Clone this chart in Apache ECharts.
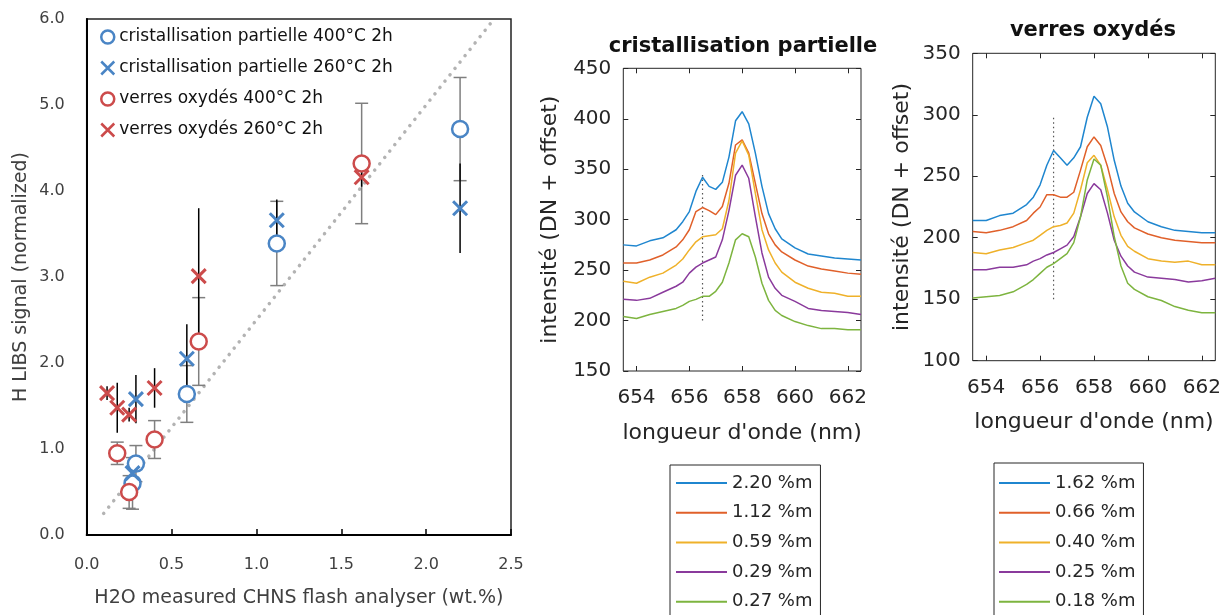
<!DOCTYPE html>
<html><head><meta charset="utf-8">
<script src="https://cdn.jsdelivr.net/npm/echarts@6/dist/echarts.min.js"></script>
<style>html,body{margin:0;padding:0;background:#fff}#c{width:1225px;height:615px}</style>
</head><body><div id="c"></div>
<script>
// ---------- Scatter (left) data ----------
const cp400_x = [2.20, 1.12, 0.59, 0.29, 0.27];
const cp400_y = [4.72, 3.39, 1.64, 0.83, 0.60];
const cp400_err = [0.60, 0.49, 0.33, 0.21, 0.30];

const cp260_x = [2.20, 1.12, 0.59, 0.29, 0.27];
const cp260_y = [3.80, 3.66, 2.05, 1.58, 0.72];
const cp260_err = [0.52, 0.24, 0.40, 0.28, 0.17];

const vo400_x = [1.62, 0.66, 0.40, 0.25, 0.18];
const vo400_y = [4.32, 2.25, 1.11, 0.50, 0.95];
const vo400_err = [0.70, 0.51, 0.22, 0.19, 0.13];

const vo260_x = [1.62, 0.66, 0.40, 0.25, 0.18, 0.12];
const vo260_y = [4.16, 3.01, 1.71, 1.40, 1.48, 1.65];
const vo260_err = [0.11, 0.79, 0.23, 0.08, 0.29, 0.08];

const ideal_x = [0.10, 2.40];
const ideal_y = [0.25, 6.00];

const scatterNames = ['cristallisation partielle 400°C 2h', 'cristallisation partielle 260°C 2h',
                      'verres oxydés 400°C 2h', 'verres oxydés 260°C 2h'];

// ---------- Spectra data ----------
const wl = [653.5, 654, 654.5, 655, 655.5, 655.75, 656, 656.25, 656.5, 656.75, 657, 657.25, 657.5, 657.75,
            658, 658.25, 658.5, 658.75, 659, 659.25, 659.5, 660, 660.5, 661, 661.5, 662, 662.5];
const wlTicks = [654, 656, 658, 660, 662];

const cpNames = ['2.20 %m', '1.12 %m', '0.59 %m', '0.29 %m', '0.27 %m'];
const cp_220 = [275, 274, 279, 282, 290, 298, 308, 328, 342, 333, 330, 337, 362, 398, 407, 395, 366, 333, 306, 291, 281, 272, 266, 264, 262, 261, 260];
const cp_112 = [257, 257, 260, 265, 273, 280, 290, 308, 312, 309, 305, 313, 336, 374, 379, 366, 336, 306, 286, 275, 268, 260, 254, 251, 249, 247, 246];
const cp_059 = [239, 237, 243, 247, 255, 261, 270, 278, 283, 284, 285, 291, 319, 366, 378, 364, 326, 290, 270, 257, 248, 238, 232, 228, 227, 224, 224];
const cp_029 = [221, 220, 222, 228, 234, 238, 247, 253, 257, 260, 263, 280, 309, 344, 354, 341, 303, 267, 243, 232, 225, 219, 212, 210, 209, 208, 206];
const cp_027 = [204, 202, 206, 209, 212, 215, 219, 221, 224, 224, 229, 238, 257, 280, 286, 283, 263, 237, 220, 210, 205, 199, 195, 192, 192, 191, 191];
const cpMarker_x = [656.5, 656.5];
const cpMarker_y = [200, 347];

const voNames = ['1.62 %m', '0.66 %m', '0.40 %m', '0.25 %m', '0.18 %m'];
const vo_162 = [214, 214, 218, 220, 227, 233, 243, 259, 271, 265, 259, 265, 274, 298, 315, 309, 290, 263, 242, 228, 221, 213, 209, 206, 205, 204, 204];
const vo_066 = [205, 204, 206, 209, 214, 220, 225, 235, 235, 233, 233, 237, 255, 274, 282, 275, 258, 236, 221, 213, 208, 203, 200, 198, 197, 196, 196];
const vo_040 = [188, 187, 190, 192, 196, 198, 202, 206, 209, 210, 212, 220, 239, 261, 267, 259, 239, 217, 202, 193, 189, 183, 181, 180, 181, 178, 178];
const vo_025 = [174, 174, 176, 176, 178, 181, 183, 186, 188, 191, 194, 201, 217, 236, 244, 239, 220, 198, 185, 177, 172, 168, 167, 166, 164, 165, 167];
const vo_018 = [151, 152, 153, 156, 162, 166, 171, 176, 179, 183, 187, 196, 217, 247, 264, 259, 233, 201, 177, 163, 158, 152, 149, 144, 141, 139, 139];
const voMarker_x = [656.5, 656.5];
const voMarker_y = [150, 298];

const lineColors = ['#1f86cf', '#e0602a', '#efb12a', '#8a3a9c', '#7db43f'];
const blue = '#4a85c5', red = '#cc4b4b';
const xPath = 'path://M0,0L10,10M0,10L10,0';

function pts(xs, ys) { return xs.map((x, i) => [x, ys[i]]); }

function errSeries(xs, ys, errs, color, cap) {
  return {
    type: 'custom', xAxisIndex: 0, yAxisIndex: 0, z: 2, silent: true,
    data: xs.map((x, i) => [x, ys[i] - errs[i], ys[i] + errs[i]]),
    encode: { x: 0, y: [1, 2] },
    renderItem: (params, api) => {
      const lo = api.coord([api.value(0), api.value(1)]);
      const hi = api.coord([api.value(0), api.value(2)]);
      const st = { stroke: color, lineWidth: 1.5 };
      const ch = [{ type: 'line', shape: { x1: lo[0], y1: lo[1], x2: hi[0], y2: hi[1] }, style: st }];
      if (cap) {
        ch.push({ type: 'line', shape: { x1: lo[0] - cap / 2, y1: lo[1], x2: lo[0] + cap / 2, y2: lo[1] }, style: st });
        ch.push({ type: 'line', shape: { x1: hi[0] - cap / 2, y1: hi[1], x2: hi[0] + cap / 2, y2: hi[1] }, style: st });
      }
      return { type: 'group', children: ch };
    }
  };
}

function specSeries(name, vals, color, idx) {
  return {
    name: name, type: 'line', xAxisIndex: idx, yAxisIndex: idx, data: pts(wl, vals),
    symbol: 'none', smooth: false, color: color,
    lineStyle: { width: 1.5, color: color }, z: 3, silent: true
  };
}

const specFont = 'DejaVu Sans';
const specText = '#262626';

function specX(gridIndex, pos) {
  return {
    type: 'value', gridIndex: gridIndex, position: pos, min: 653.5, max: 662.5,
    axisLine: { show: false }, splitLine: { show: false },
    axisTick: { show: true, inside: true, length: 5, customValues: wlTicks, lineStyle: { color: specText, width: 1 } },
    axisLabel: pos === 'bottom'
      ? { show: true, customValues: wlTicks, margin: 17, fontSize: 20, fontFamily: specFont, color: specText }
      : { show: false },
    name: pos === 'bottom' ? "longueur d'onde (nm)" : '',
    nameLocation: 'middle', nameGap: 51,
    nameTextStyle: { fontSize: 22, fontFamily: specFont, color: specText }
  };
}
function specY(gridIndex, pos, mn, mx, gap) {
  return {
    type: 'value', gridIndex: gridIndex, position: pos, min: mn, max: mx, interval: 50,
    axisLine: { show: false }, splitLine: { show: false },
    axisTick: { show: true, inside: true, length: 5, lineStyle: { color: specText, width: 1 } },
    axisLabel: pos === 'left'
      ? { show: true, margin: 12, fontSize: 20, fontFamily: specFont, color: specText }
      : { show: false },
    name: pos === 'left' ? 'intensité (DN + offset)' : '',
    nameLocation: 'middle', nameGap: gap,
    nameTextStyle: { fontSize: 22, fontFamily: specFont, color: specText }
  };
}

const leftFont = 'DejaVu Sans';
const leftText = '#404040';

function specLegend(left, top, padTop, padLeft, names) {
  return {
    left: left, top: top, height: 260, orient: 'vertical', itemGap: 7.7, itemWidth: 51, itemHeight: 2,
    padding: [padTop, 8, 40, padLeft], borderColor: specText, borderWidth: 1, selectedMode: false,
    itemStyle: { opacity: 0 },
    textStyle: { fontSize: 18, lineHeight: 22, fontFamily: specFont, color: specText },
    data: names
  };
}

const option = {
  animation: false,
  backgroundColor: '#fff',
  title: [
    { text: 'cristallisation partielle', left: 743, top: 36, textAlign: 'center', padding: 0,
      textStyle: { fontSize: 21, fontWeight: 'bold', fontFamily: specFont, color: '#111' } },
    { text: 'verres oxydés', left: 1093, top: 20, textAlign: 'center', padding: 0,
      textStyle: { fontSize: 21, fontWeight: 'bold', fontFamily: specFont, color: '#111' } }
  ],
  grid: [
    { left: 86.7, top: 19, width: 424.3, height: 516, show: true, borderColor: '#222', borderWidth: 1.5, outerBoundsMode: 'none' },
    { left: 623.3, top: 68.3, width: 237.7, height: 302.7, show: true, borderColor: specText, borderWidth: 1, outerBoundsMode: 'none' },
    { left: 972.7, top: 53.3, width: 242.6, height: 307.4, show: true, borderColor: specText, borderWidth: 1, outerBoundsMode: 'none' }
  ],
  xAxis: [
    { type: 'value', gridIndex: 0, min: 0, max: 2.5, interval: 0.5,
      axisLine: { show: true, lineStyle: { color: '#000', width: 2 } },
      axisTick: { show: true, inside: true, length: 6, lineStyle: { color: '#000', width: 1.5 } },
      splitLine: { show: false },
      axisLabel: { margin: 22, fontSize: 16, fontFamily: leftFont, color: leftText, formatter: v => v.toFixed(1) },
      name: 'H2O measured CHNS flash analyser (wt.%)', nameLocation: 'middle', nameGap: 54,
      nameTextStyle: { fontSize: 19, fontFamily: leftFont, color: leftText } },
    specX(1, 'bottom'), specX(1, 'top'),
    specX(2, 'bottom'), specX(2, 'top')
  ],
  yAxis: [
    { type: 'value', gridIndex: 0, min: 0, max: 6, interval: 1,
      axisLine: { show: true, lineStyle: { color: '#000', width: 2 } },
      axisTick: { show: false }, splitLine: { show: false },
      axisLabel: { margin: 22, fontSize: 16, fontFamily: leftFont, color: leftText, formatter: v => v.toFixed(1) },
      name: 'H LIBS signal (normalized)', nameLocation: 'middle', nameGap: 56,
      nameTextStyle: { fontSize: 19, fontFamily: leftFont, color: leftText } },
    specY(1, 'left', 150, 450, 62), specY(1, 'right', 150, 450, 0),
    specY(2, 'left', 100, 350, 59), specY(2, 'right', 100, 350, 0)
  ],
  legend: [
    { left: 100, top: 27, orient: 'vertical', itemGap: 11, itemWidth: 13, itemHeight: 13, padding: 0,
      selectedMode: false,
      textStyle: { fontSize: 17, lineHeight: 20, fontFamily: leftFont, color: '#111' },
      data: [
        { name: scatterNames[0], icon: 'circle', itemStyle: { color: '#fff', borderColor: blue, borderWidth: 2.5 } },
        { name: scatterNames[1], icon: xPath, itemStyle: { color: 'transparent', borderColor: blue, borderWidth: 2.5 } },
        { name: scatterNames[2], icon: 'circle', itemStyle: { color: '#fff', borderColor: red, borderWidth: 2.5 } },
        { name: scatterNames[3], icon: xPath, itemStyle: { color: 'transparent', borderColor: red, borderWidth: 2.5 } }
      ] },
    specLegend(670, 465, 7, 5, cpNames),
    specLegend(994, 463, 9, 4, voNames)
  ],
  series: [
    { type: 'line', xAxisIndex: 0, yAxisIndex: 0, data: pts(ideal_x, ideal_y), symbol: 'none', silent: true, z: 1,
      lineStyle: { color: '#b3b3b3', width: 3.5, type: [0.1, 8], cap: 'round' } },
    errSeries(cp400_x, cp400_y, cp400_err, '#7f7f7f', 13),
    errSeries(vo400_x, vo400_y, vo400_err, '#7f7f7f', 13),
    errSeries(cp260_x, cp260_y, cp260_err, '#000', 0),
    errSeries(vo260_x, vo260_y, vo260_err, '#000', 0),
    { name: scatterNames[0], type: 'scatter', xAxisIndex: 0, yAxisIndex: 0, data: pts(cp400_x, cp400_y),
      symbol: 'circle', symbolSize: 16, z: 4, itemStyle: { color: '#fff', borderColor: blue, borderWidth: 2.5, opacity: 1 } },
    { name: scatterNames[2], type: 'scatter', xAxisIndex: 0, yAxisIndex: 0, data: pts(vo400_x, vo400_y),
      symbol: 'circle', symbolSize: 16, z: 4, itemStyle: { color: '#fff', borderColor: red, borderWidth: 2.5, opacity: 1 } },
    { name: scatterNames[1], type: 'scatter', xAxisIndex: 0, yAxisIndex: 0, data: pts(cp260_x, cp260_y),
      symbol: xPath, symbolSize: 14, z: 5, itemStyle: { color: 'transparent', borderColor: blue, borderWidth: 3, opacity: 1 } },
    { name: scatterNames[3], type: 'scatter', xAxisIndex: 0, yAxisIndex: 0, data: pts(vo260_x, vo260_y),
      symbol: xPath, symbolSize: 14, z: 5, itemStyle: { color: 'transparent', borderColor: red, borderWidth: 3, opacity: 1 } },

    specSeries(cpNames[0], cp_220, lineColors[0], 1),
    specSeries(cpNames[1], cp_112, lineColors[1], 1),
    specSeries(cpNames[2], cp_059, lineColors[2], 1),
    specSeries(cpNames[3], cp_029, lineColors[3], 1),
    specSeries(cpNames[4], cp_027, lineColors[4], 1),
    { type: 'line', xAxisIndex: 1, yAxisIndex: 1, data: pts(cpMarker_x, cpMarker_y), symbol: 'none', silent: true, z: 2,
      lineStyle: { color: '#555', width: 1.2, type: [1.5, 3] } },

    specSeries(voNames[0], vo_162, lineColors[0], 3),
    specSeries(voNames[1], vo_066, lineColors[1], 3),
    specSeries(voNames[2], vo_040, lineColors[2], 3),
    specSeries(voNames[3], vo_025, lineColors[3], 3),
    specSeries(voNames[4], vo_018, lineColors[4], 3),
    { type: 'line', xAxisIndex: 3, yAxisIndex: 3, data: pts(voMarker_x, voMarker_y), symbol: 'none', silent: true, z: 2,
      lineStyle: { color: '#555', width: 1.2, type: [1.5, 3] } }
  ]
};

const chart = echarts.init(document.getElementById('c'), null, { renderer: 'canvas' });
chart.setOption(option);
</script></body></html>
